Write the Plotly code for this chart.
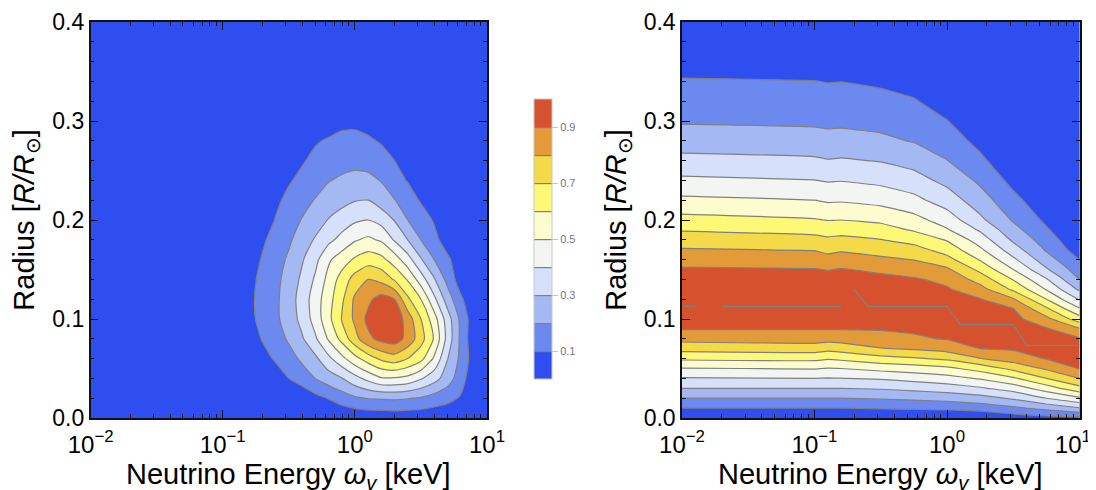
import numpy as np
import plotly.graph_objects as go

# ---- shared ----
LEVEL_COLORS = ["#2E4EF0", "#6C89F0", "#A4B8F3", "#D6E0FA", "#F3F5F3",
                "#FDFCCF", "#FDF977", "#F4D949", "#E39B3A", "#D6512D"]
BAR_TICKS = [0.1, 0.3, 0.5, 0.7, 0.9]
X_TICKS = [0.01, 0.1, 1, 10]
X_TICK_TEXT = ["10<sup>\u22122</sup>", "10<sup>\u22121</sup>", "10<sup>0</sup>", "10<sup>1</sup>"]
X2_TICK_TEXT = ["10<sup>\u22122</sup>", "10<sup>\u22121</sup>", "10<sup>0</sup>", "10<sup>1</sup>\u00a0\u00a0"]
X_MINOR = [0.02, 0.03, 0.04, 0.05, 0.06, 0.07, 0.08, 0.09,
           0.2, 0.3, 0.4, 0.5, 0.6, 0.7, 0.8, 0.9,
           2, 3, 4, 5, 6, 7, 8, 9]
Y_TICKS = [0.0, 0.1, 0.2, 0.3, 0.4]
X_TITLE = "Neutrino Energy <i>\u03c9<sub>v</sub></i> [keV]"
Y_TITLE = "Radius [<i>R/R</i><sub>\u2299</sub>]"

# ---- left panel: rows bottom to top ----
LEFT_LOG_E = [-2, -1, -.9, -.7, -.6, -.5, -.4, -.3, -.2, -.1, 0, .1, .2, .3, .4, .5, .6, .7, .8, .9, 1.0]
LEFT_R = [0, .02, .04, .06, .08, .10, .12, .14, .16, .18, .20, .22, .24, .26, .28, .30, .32, .40]
LEFT_Z = [
    [0,0,0,0,0,0,0,0,0,.01,.02,.03,.03,.035,.03,.03,.025,.02,.01,0,0],
    [0,0,0,0,0,0,.02,.07,.105,.148,.186,.205,.21,.215,.205,.19,.16,.13,.09,.02,0],
    [0,0,0,.03,.06,.1,.15,.2,.25,.295,.365,.43,.49,.49,.47,.41,.34,.25,.145,.03,0],
    [0,0,0,.07,.11,.164,.217,.278,.375,.47,.567,.65,.72,.756,.70,.63,.485,.305,.177,.05,0],
    [0,0,.01,.105,.157,.213,.288,.385,.51,.63,.765,.875,.93,.95,.87,.74,.59,.365,.18,.03,0],
    [0,0,.03,.125,.18,.245,.33,.44,.57,.705,.82,.925,.98,.97,.856,.7,.543,.35,.177,.04,0],
    [0,0,.03,.13,.18,.252,.342,.449,.56,.678,.818,.878,.94,.9,.72,.6,.424,.255,.118,.02,0],
    [0,0,.02,.124,.174,.238,.319,.414,.53,.64,.74,.8,.77,.69,.59,.45,.31,.17,.05,0,0],
    [0,0,0,.108,.16,.215,.29,.37,.485,.55,.615,.655,.63,.55,.44,.31,.2,.12,.04,0,0],
    [0,0,0,.085,.135,.185,.245,.31,.375,.43,.49,.52,.485,.39,.3,.2,.13,.05,0,0,0],
    [0,0,0,.05,.105,.155,.205,.25,.305,.35,.385,.4,.365,.295,.2,.15,.09,.02,0,0,0],
    [0,0,0,.02,.08,.125,.165,.205,.24,.265,.295,.3,.25,.205,.145,.09,.02,0,0,0,0],
    [0,0,0,0,.03,.09,.125,.16,.195,.215,.23,.225,.195,.13,.095,.05,0,0,0,0,0],
    [0,0,0,0,0,.03,.09,.125,.15,.165,.17,.165,.14,.1,.05,0,0,0,0,0,0],
    [0,0,0,0,0,0,.02,.09,.11,.122,.125,.115,.09,.04,0,0,0,0,0,0,0],
    [0,0,0,0,0,0,0,0,.05,.078,.08,.06,.03,0,0,0,0,0,0,0,0],
    [0]*21,
    [0]*21,
]

# ---- right panel: columns by energy, values bottom to top ----
RIGHT_LOG_E = [-2, -1, -.9, -.8, -.5, -.25, 0, .25, .5, .75, 1]
RIGHT_R = [0, .01, .02, .03, .04, .05, .06, .07, .08, .09, .10, .11, .12, .13, .14, .15, .16, .17, .18, .19, .20,
           .22, .24, .26, .28, .30, .32, .34, .36, .40]
RIGHT_Z_BY_E = [
    [0,.10,.20,.30,.393,.495,.617,.735,.831,.905,.92,.94,.95,.95,.93,.91,.867,.808,.751,.693,.634,.521,.42,.329,.253,.19,.149,.108,.06,0],
    [0,.10,.20,.30,.399,.506,.625,.748,.844,.905,.92,.94,.95,.95,.93,.905,.854,.794,.731,.669,.608,.50,.402,.315,.241,.183,.142,.102,.05,0],
    [0,.10,.20,.30,.395,.495,.61,.73,.835,.905,.92,.94,.95,.94,.92,.897,.835,.775,.718,.658,.597,.487,.392,.305,.233,.178,.138,.097,.05,0],
    [0,.10,.20,.30,.398,.50,.62,.743,.84,.905,.92,.94,.95,.95,.93,.905,.847,.787,.725,.665,.60,.49,.396,.31,.236,.18,.14,.099,.05,0],
    [0,.109,.208,.31,.41,.53,.665,.794,.871,.905,.92,.94,.95,.94,.92,.886,.82,.76,.703,.641,.58,.468,.375,.295,.22,.17,.128,.085,.04,0],
    [0,.115,.22,.327,.434,.551,.688,.812,.89,.91,.92,.94,.95,.93,.91,.857,.797,.735,.665,.59,.534,.427,.34,.263,.194,.152,.108,.06,.01,0],
    [0,.123,.238,.35,.462,.578,.719,.837,.905,.91,.92,.93,.925,.91,.877,.817,.733,.659,.593,.51,.453,.353,.272,.202,.152,.103,.055,.01,0,0],
    [0,.143,.262,.387,.51,.639,.796,.90,.91,.92,.93,.92,.905,.838,.758,.674,.592,.518,.452,.388,.322,.245,.181,.122,.07,.03,0,0,0,0],
    [.045,.181,.315,.444,.584,.727,.848,.91,.92,.93,.93,.905,.81,.68,.594,.50,.419,.346,.283,.233,.19,.129,.07,.02,0,0,0,0,0,0],
    [.068,.228,.401,.551,.699,.814,.905,.91,.92,.91,.83,.722,.60,.493,.41,.312,.244,.189,.15,.112,.08,.03,0,0,0,0,0,0,0,0],
    [.08,.293,.483,.667,.799,.905,.91,.915,.91,.811,.645,.513,.39,.28,.197,.147,.098,.05,.02,0,0,0,0,0,0,0,0,0,0,0],
]

# ridge of the plateau in the right panel (three separate runs)
RIDGE_LOG_E = [-1.99, -1.90, None, -1.70, -0.80, None, -0.70, -0.60, 0.0, 0.10, 0.50, 0.60, 1.0]
RIDGE_R = [.1128, .1128, None, .1128, .1128, None, .130, .1128, .1128, .0943, .0943, .0734, .0734]

W, H = 1088, 482          # the page adds an 8 px body margin
OFF = 8
FONT = "Liberation Sans"
GREY = "#808080"
n = len(LEVEL_COLORS)
colorscale = [[i / (n - 1), c] for i, c in enumerate(LEVEL_COLORS)]
contour_spec = dict(start=0.1, end=0.9, size=0.1, coloring="fill", showlines=True)


def energies(logs):
    return [None if v is None else 10.0 ** v for v in logs]


def xdom(a, b):
    return [(a - OFF) / W, (b - OFF) / W]


ydom = [1 - (418 - OFF) / H, 1 - (22 - OFF) / H]

fig = go.Figure()
fig.add_trace(go.Contour(
    x=energies(LEFT_LOG_E), y=LEFT_R, z=LEFT_Z, xaxis="x", yaxis="y",
    zmin=0, zmax=1, autocontour=False, contours=contour_spec, colorscale=colorscale,
    line=dict(color=GREY, width=1.2, smoothing=0.6),
    colorbar=dict(
        x=(534 - OFF) / W, xanchor="left", y=1 - (239 - OFF) / H, yanchor="middle",
        len=280 / H, lenmode="fraction", thickness=18, thicknessmode="pixels",
        xpad=0, ypad=0, outlinecolor="#c8c8c8", outlinewidth=1,
        tickmode="array", tickvals=BAR_TICKS, ticktext=[f"{t:.1f}" for t in BAR_TICKS],
        ticks="outside", ticklen=6, tickcolor="#c0c0c0", tickwidth=1,
        tickfont=dict(family=FONT, size=11, color="#777777"),
    ),
))
fig.add_trace(go.Contour(
    x=energies(RIGHT_LOG_E), y=RIGHT_R, z=np.array(RIGHT_Z_BY_E).T.tolist(), xaxis="x2", yaxis="y2",
    zmin=0, zmax=1, autocontour=False, contours=contour_spec, colorscale=colorscale,
    line=dict(color=GREY, width=1.2, smoothing=0.3), showscale=False,
))
fig.add_trace(go.Scatter(
    x=energies(RIDGE_LOG_E), y=RIDGE_R, xaxis="x2", yaxis="y2", mode="lines",
    line=dict(color=GREY, width=1.2), showlegend=False, hoverinfo="skip",
))

xcommon = dict(
    type="log", range=[-2, 1], tickmode="array", tickvals=X_TICKS,
    ticks="inside", ticklen=8, tickwidth=1.4, tickcolor="#111111",
    showline=True, linecolor="#111111", linewidth=1.5, mirror="allticks", showgrid=False, zeroline=False,
    minor=dict(tickmode="array", tickvals=X_MINOR, ticks="inside", ticklen=4, tickwidth=1.2,
               tickcolor="#111111", showgrid=False),
    tickfont=dict(family=FONT, size=24, color="#000000"), ticklabeloverflow="allow", ticklabelstandoff=4,
    automargin=True,
)
ycommon = dict(
    range=[0, 0.4], tickmode="array", tickvals=Y_TICKS, ticktext=[f"{t:.1f}" for t in Y_TICKS],
    ticks="inside", ticklen=8, tickwidth=1.4, tickcolor="#111111",
    showline=True, linecolor="#111111", linewidth=1.5, mirror="allticks", showgrid=False, zeroline=False,
    minor=dict(dtick=0.02, ticks="inside", ticklen=4, tickwidth=1.2, tickcolor="#111111", showgrid=False),
    tickfont=dict(family=FONT, size=23, color="#000000"), ticklabeloverflow="allow",
    automargin=True,
    title=dict(text=Y_TITLE, font=dict(family=FONT, size=29, color="#000000"), standoff=9),
)

title_y = 1 - (476 - OFF) / H
fig.update_layout(
    width=W, height=H, margin=dict(l=0, r=0, t=0, b=0, autoexpand=False),
    paper_bgcolor="#ffffff", plot_bgcolor=LEVEL_COLORS[0], showlegend=False,
    xaxis=dict(domain=xdom(90.6, 487), anchor="y", ticktext=X_TICK_TEXT, **xcommon),
    yaxis=dict(domain=ydom, anchor="x", **ycommon),
    xaxis2=dict(domain=xdom(682, 1079.5), anchor="y2", ticktext=X2_TICK_TEXT, **xcommon),
    yaxis2=dict(domain=ydom, anchor="x2", **ycommon),
    annotations=[
        dict(text=X_TITLE, xref="x domain", yref="paper", x=0.5, y=title_y, xanchor="center", yanchor="middle",
             showarrow=False, font=dict(family=FONT, size=29, color="#000000")),
        dict(text=X_TITLE, xref="x2 domain", yref="paper", x=0.5, y=title_y, xanchor="center", yanchor="middle",
             showarrow=False, font=dict(family=FONT, size=29, color="#000000")),
    ],
)

fig.write_html("out.html")
